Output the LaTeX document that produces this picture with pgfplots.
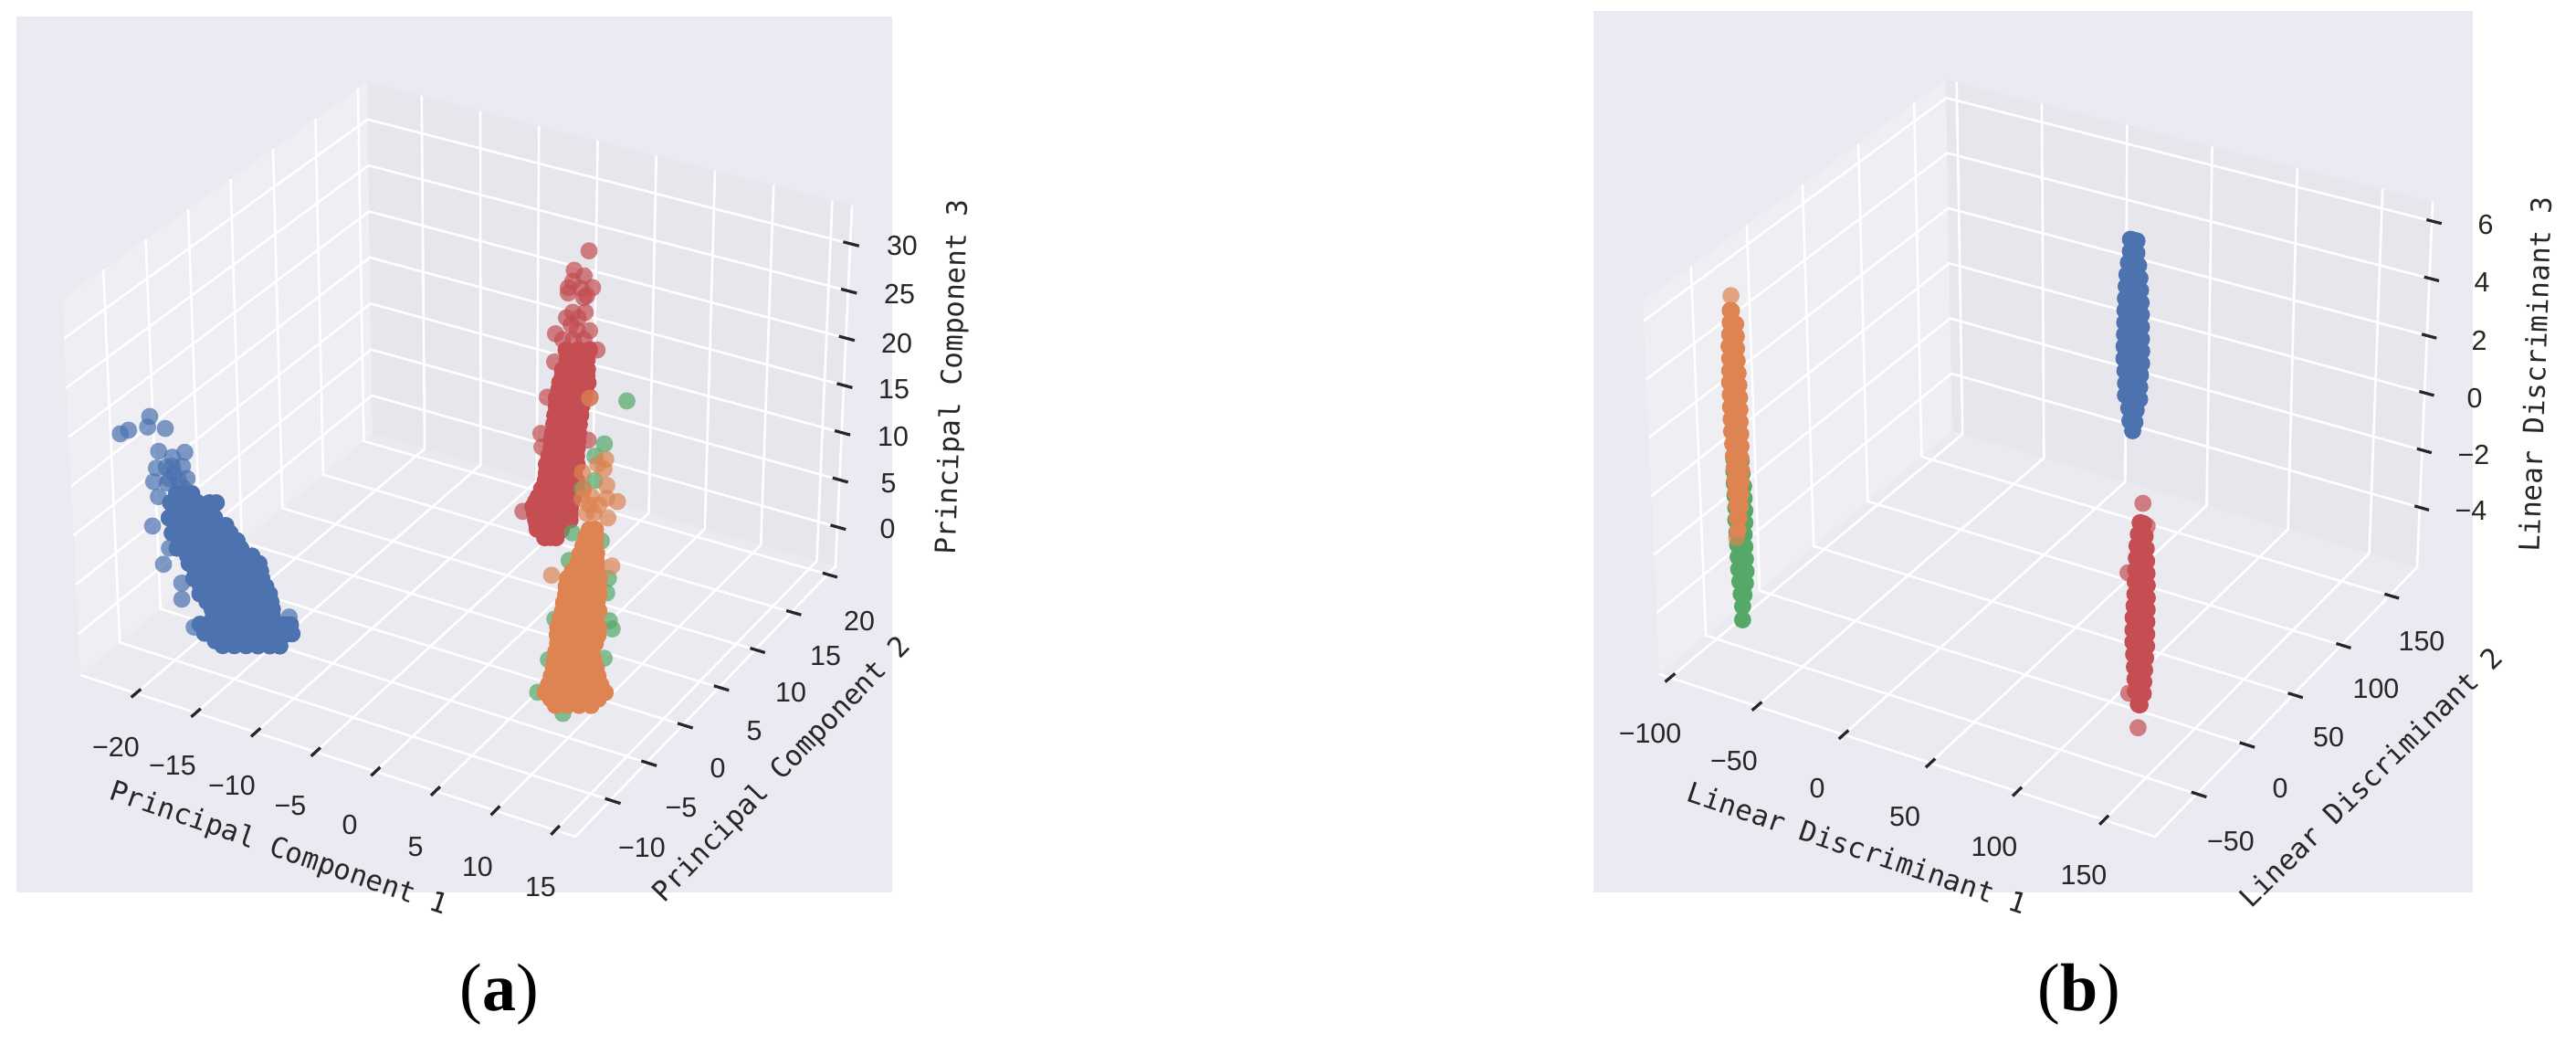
\documentclass[border=0pt]{standalone}
\usepackage{fontspec}
\usepackage{pgfplots}
\usepackage{pgfplotstable}
\pgfplotsset{compat=1.18}
\setmainfont{Liberation Sans}
\newfontfamily\labfont{DejaVu Sans Mono}
\newfontfamily\capfont{Liberation Serif}

\definecolor{bg}{HTML}{EAEAF2}
\definecolor{wallL}{HTML}{EEEEF3}
\definecolor{wallB}{HTML}{E6E6EC}
\definecolor{wallF}{HTML}{EAEAF0}
\definecolor{cblue}{HTML}{4C72B0}
\definecolor{cred}{HTML}{C44E52}
\definecolor{cgreen}{HTML}{55A868}
\definecolor{corange}{HTML}{DD8452}

% the picture is laid out in the pixels of the reference, the 3D data goes
% through a small perspective map (corners of each box)
\pgfplotsset{
  /pgf/declare function={
    bl(\p,\q,\ca,\cb,\cc,\cd)=(1-\q)*((1-\p)*\ca+\p*\cb)+\q*((1-\p)*\cd+\p*\cc);
    ua(\x)=(\x+24.65)/41.32; va(\y)=(\y+14.85)/35.93; wa(\z)=(\z+4.16)/38.2;
    pxa(\x,\y,\z)=(1-wa(\z))*bl(ua(\x),va(\y),88,630,915,408)+wa(\z)*bl(ua(\x),va(\y),68,635,933,402);
    pya(\x,\y,\z)=(1-wa(\z))*bl(ua(\x),va(\y),739,916,620,475)+wa(\z)*bl(ua(\x),va(\y),327,491,225,90);
    ub(\x)=(\x+106.3)/285.7; vb(\y)=(\y+93.2)/271.7; wb(\z)=(\z+6.09)/12.76;
    pxb(\x,\y,\z)=(1-wb(\z))*bl(ub(\x),vb(\y),1817,2360,2647,2138)+wb(\z)*bl(ub(\x),vb(\y),1799,2365,2664,2131);
    pyb(\x,\y,\z)=(1-wb(\z))*bl(ub(\x),vb(\y),738,916,621,472)+wb(\z)*bl(ub(\x),vb(\y),330,493,221,87);
  },
  table/pa/.style={x expr={pxa(\thisrow{x},\thisrow{y},\thisrow{z})},y expr={pya(\thisrow{x},\thisrow{y},\thisrow{z})}},
  table/pb/.style={x expr={pxb(\thisrow{x},\thisrow{y},\thisrow{z})},y expr={pyb(\thisrow{x},\thisrow{y},\thisrow{z})}},
  gl/.style={white,line width=.65pt,no marks},
  tk/.style={black!85,line width=.8pt,no marks},
  pts/.style={only marks,mark=*,mark size=2.35pt,mark options={draw opacity=0,fill=#1,fill opacity=.7}},
  core/.style={only marks,mark=*,mark size=2.35pt,mark options={draw opacity=0,fill=#1}},
}

% ---- panel a, PCA
\pgfplotstableread[row sep=\\]{x y z\\
-24.23 -9.46 17.02\\ -23.53 -9.46 17.65\\ -21.72 -9.46 19.73\\ -21.93 -9.46 18.57\\ -20.47 -9.46 18.96\\
-21.09 -9.46 16.4\\ -18.92 -9.46 17.11\\ -19.96 -9.46 16.22\\ -21.33 -9.46 14.6\\ -19.16 -9.46 15.58\\
-21.61 -9.46 13.1\\ -18.81 -9.46 14.48\\ -20.47 -9.46 13.39\\ -21.26 -9.46 11.7\\ -21.85 -9.46 8.47\\
-21.05 -9.46 4.87\\ -19.61 -9.46 1.85\\ -19.57 -9.46 3.51\\ -20.5 -9.46 6.72\\ -10.6 -9.46 3.48\\ -18.65 -9.46 -.63\\
-20.5 -9.46 15\\ -19.9 -9.46 14.6\\ -20 -9.46 15.3\\ -19.5 -9.46 14\\ -20.3 -9.46 13.9\\ -19.2 -9.46 13.4\\
}\bluePtsA
\pgfplotstableread[row sep=\\]{x y z\\
-19.73 -9.46 12.59\\ -19.1 -9.46 12.82\\ -18.46 -9.46 13.06\\
-20.26 -9.46 11.46\\ -19 -9.46 11.93\\ -18 -9.46 12.31\\ -17 -9.46 12.68\\ -16.44 -9.46 12.89\\
-20 -9.46 10.77\\ -19 -9.46 11.15\\ -18 -9.46 11.53\\ -17 -9.46 11.9\\
-20.43 -9.46 9.84\\ -19.5 -9.46 10.19\\ -18.5 -9.46 10.57\\ -17.5 -9.46 10.94\\ -16.61 -9.46 11.28\\
-19.8 -9.46 9.31\\ -18.7 -9.46 9.72\\ -17.7 -9.46 10.1\\ -16.7 -9.46 10.47\\ -15.7 -9.46 10.85\\
-20.22 -9.46 8.37\\ -19.2 -9.46 8.76\\ -18.2 -9.46 9.13\\ -17.2 -9.46 9.51\\ -16.2 -9.46 9.88\\ -15.37 -9.46 10.2\\
-19.4 -9.46 7.91\\ -18.3 -9.46 8.32\\ -17.3 -9.46 8.7\\ -16.3 -9.46 9.08\\ -15.3 -9.46 9.45\\ -14.8 -9.46 9.64\\
-19.86 -9.46 6.96\\ -18.8 -9.46 7.36\\ -17.8 -9.46 7.73\\ -16.8 -9.46 8.11\\ -15.8 -9.46 8.48\\ -14.8 -9.46 8.86\\ -14.51 -9.46 8.97\\
-19 -9.46 6.51\\ -18.3 -9.46 6.77\\ -17.3 -9.46 7.15\\ -16.3 -9.46 7.53\\ -15.3 -9.46 7.9\\ -14.3 -9.46 8.28\\ -13.6 -9.46 8.54\\
-18.89 -9.46 5.78\\ -17.9 -9.46 6.15\\ -16.9 -9.46 6.53\\ -15.9 -9.46 6.91\\ -14.9 -9.46 7.28\\ -13.9 -9.46 7.66\\ -13.02 -9.46 7.99\\
-18.4 -9.46 5.19\\ -17.4 -9.46 5.56\\ -16.4 -9.46 5.94\\ -15.4 -9.46 6.31\\ -14.4 -9.46 6.69\\ -13.4 -9.46 7.07\\ -12.9 -9.46 7.25\\
-18.54 -9.46 4.36\\ -17.5 -9.46 4.75\\ -16.5 -9.46 5.13\\ -15.5 -9.46 5.51\\ -14.5 -9.46 5.88\\ -13.5 -9.46 6.26\\ -12.81 -9.46 6.52\\
-18 -9.46 3.79\\ -17 -9.46 4.16\\ -16 -9.46 4.54\\ -15 -9.46 4.91\\ -14 -9.46 5.29\\ -13 -9.46 5.67\\ -12.5 -9.46 5.85\\
-18.07 -9.46 2.99\\ -17 -9.46 3.39\\ -16 -9.46 3.77\\ -15 -9.46 4.14\\ -14 -9.46 4.52\\ -13 -9.46 4.9\\ -12.21 -9.46 5.19\\
-17.5 -9.46 2.43\\ -16.5 -9.46 2.81\\ -15.5 -9.46 3.19\\ -14.5 -9.46 3.56\\ -13.5 -9.46 3.94\\ -12.5 -9.46 4.31\\ -12.1 -9.46 4.46\\
-17.08 -9.46 1.81\\ -16 -9.46 2.22\\ -15 -9.46 2.59\\ -14 -9.46 2.97\\ -13 -9.46 3.35\\ -11.99 -9.46 3.73\\
-17 -9.46 1.07\\ -16 -9.46 1.45\\ -15 -9.46 1.82\\ -14 -9.46 2.2\\ -13 -9.46 2.58\\ -12 -9.46 2.95\\
-18.14 -9.46 -.14\\ -17 -9.46 .29\\ -16 -9.46 .67\\ -15 -9.46 1.04\\ -14 -9.46 1.42\\ -13 -9.46 1.8\\ -12 -9.46 2.17\\ -11 -9.46 2.55\\ -10.5 -9.46 2.74\\
-17.78 -9.46 -.92\\ -16.8 -9.46 -.55\\ -15.8 -9.46 -.18\\ -14.8 -9.46 .2\\ -13.8 -9.46 .58\\ -12.8 -9.46 .95\\ -11.8 -9.46 1.33\\ -10.8 -9.46 1.7\\ -10.39 -9.46 1.86\\
-16.9 -9.46 -1.35\\ -16.28 -9.46 -1.6\\ -15.3 -9.46 -1.23\\ -14.3 -9.46 -.85\\ -13.3 -9.46 -.48\\ -12.3 -9.46 -.1\\ -11.44 -9.46 .22\\
}\blueCoreA
\pgfplotstableread[row sep=\\]{x y z\\
.14 12.46 29.95\\ -1.09 12.46 27.5\\ -.25 12.46 27.2\\ -1.57 12.46 25.5\\ .48 12.46 26.2\\ -1.57 12.46 24.95\\ -.25 12.46 24.9\\
-1.17 12.46 23.05\\ -.12 12.46 23.4\\ -1.7 12.46 22.3\\ .27 12.46 21.6\\ -.78 12.46 21.3\\ -2.62 12.46 20.3\\ .93 12.46 19.8\\
-2.67 12.46 17.33\\ -3.27 12.46 13.4\\ .4 12.46 14.65\\ -3.8 12.46 9.4\\ .27 12.46 10.1\\ -3.7 12.46 8\\ -5.32 12.46 .65\\
-.5 12.46 25.8\\ -1.2 12.46 26.3\\ 0 12.46 25.2\\ -.7 12.46 22.6\\ -1.3 12.46 21.7\\ -.2 12.46 20.5\\ -2 12.46 19.9\\ -1.1 12.46 20.2\\
}\redPtsA
\pgfplotstableread[row sep=\\]{x y z\\
-1.7 12.46 18.9\\ -.65 12.46 19.3\\ .3 12.46 19.6\\
-1.6 12.46 18\\ -.7 12.46 18.3\\ .1 12.46 18.5\\
-2 12.46 16.7\\ -1.2 12.46 17\\ -.4 12.46 17.3\\ .14 12.46 17.5\\
-2 12.46 16\\ -1.2 12.46 16.3\\ -.4 12.46 16.6\\ .1 12.46 16.8\\
-2.22 12.46 15.3\\ -1.4 12.46 15.6\\ -.6 12.46 15.85\\ .2 12.46 16.1\\
-2.3 12.46 14.5\\ -1.5 12.46 14.8\\ -.7 12.46 15\\ 0 12.46 15.3\\
-2.5 12.46 13.6\\ -1.7 12.46 13.9\\ -.9 12.46 14.2\\ -.1 12.46 14.5\\
-2.5 12.46 12.7\\ -1.7 12.46 13\\ -.9 12.46 13.2\\ -.3 12.46 13.5\\
-2.62 12.46 11.7\\ -1.8 12.46 12\\ -1 12.46 12.25\\ -.39 12.46 12.5\\
-2.7 12.46 10.75\\ -1.9 12.46 11\\ -1.1 12.46 11.3\\ -.5 12.46 11.5\\
-2.8 12.46 9.75\\ -2 12.46 10\\ -1.2 12.46 10.3\\ -.55 12.46 10.55\\
-2.9 12.46 9\\ -2.1 12.46 9.25\\ -1.3 12.46 9.5\\ -.6 12.46 9.75\\
-2.9 12.46 8.2\\ -2.1 12.46 8.45\\ -1.3 12.46 8.7\\ -.65 12.46 8.95\\
-3.1 12.46 7.3\\ -2.3 12.46 7.55\\ -1.5 12.46 7.8\\ -.7 12.46 8.1\\
-3.3 12.46 6.3\\ -2.5 12.46 6.6\\ -1.7 12.46 6.85\\ -.9 12.46 7.1\\ -.65 12.46 7.2\\
-3.3 12.46 5.4\\ -2.5 12.46 5.7\\ -1.7 12.46 6\\ -.9 12.46 6.25\\
-3.4 12.46 4.55\\ -2.6 12.46 4.85\\ -1.8 12.46 5.1\\ -1 12.46 5.4\\ -.65 12.46 5.5\\
-3.7 12.46 3.6\\ -2.9 12.46 3.85\\ -2.1 12.46 4.15\\ -1.3 12.46 4.4\\ -.7 12.46 4.6\\
-4 12.46 2.65\\ -3.2 12.46 2.85\\ -2.4 12.46 3.2\\ -1.6 12.46 3.45\\ -.9 12.46 3.7\\
-4.2 12.46 2.1\\ -3.4 12.46 2.3\\ -2.6 12.46 2.6\\ -1.8 12.46 2.85\\ -1.1 12.46 3.1\\
-4.45 12.46 1.45\\ -3.6 12.46 1.75\\ -2.8 12.46 2\\ -2 12.46 2.3\\ -1.17 12.46 2.6\\
-4.3 12.46 .8\\ -3.5 12.46 1.1\\ -2.7 12.46 1.35\\ -1.9 12.46 1.65\\ -1.2 12.46 1.9\\
-4.2 12.46 .15\\ -3.4 12.46 .45\\ -2.6 12.46 .7\\ -1.8 12.46 1\\ -1.2 12.46 1.2\\
-4.1 12.46 -.3\\ -3.3 12.46 -.05\\ -2.5 12.46 .2\\ -1.9 12.46 .4\\
-4.06 12.46 -.8\\ -3.3 12.46 -.55\\ -2.5 12.46 -.27\\ -1.96 12.46 -.1\\
-3.4 12.46 -1.45\\ -2.9 12.46 -1.25\\ -2.4 12.46 -1.1\\
}\redCoreA
\pgfplotstableread[row sep=\\]{x y z\\
14.77 -5.5 31.81\\ 13 -5.5 26.87\\ 12.24 -5.5 25.38\\ 12.24 -5.5 22.92\\ 11.23 -5.5 21.73\\ 10.47 -5.5 17.02\\ 10.22 -5.5 14.15\\
13.5 -5.5 13.54\\ 13.38 -5.5 12.03\\ 13.63 -5.5 9.33\\ 13.88 -5.5 8.6\\ 9.09 -5.5 7.83\\ 13.25 -5.5 5.42\\ 7.7 -5.5 -.06\\
9.84 -5.5 -1.4\\ 12.87 -5.5 17.08\\ 8.58 -5.5 3.55\\
}\greenPtsA
\pgfplotstableread[row sep=\\]{x y z\\
13.13 -5.5 25.37\\ 12.49 -5.5 24.64\\ 13 -5.5 24.35\\ 11.23 -5.5 23.37\\ 13.25 -5.5 22.8\\ 11.36 -5.5 21.78\\ 11.99 -5.5 21.19\\
11.23 -5.5 20.75\\ 14.14 -5.5 21.48\\ 12.62 -5.5 20.6\\ 13.25 -5.5 21.49\\ 11.61 -5.5 19.42\\ 12.24 -5.5 19.65\\ 13.38 -5.5 19.57\\
11.74 -5.5 31.03\\ 8.78 -5.5 12.14\\ 13.76 -5.5 14.88\\ 11.86 -5.5 20.32\\
}\orangePtsA
\pgfplotstableread[row sep=\\]{x y z\\
9.2 -5.5 -.82\\ 10.2 -5.5 -.45\\ 11.2 -5.5 -.08\\ 12.2 -5.5 .28\\
8.8 -5.5 -.3\\ 9.8 -5.5 .05\\ 10.8 -5.5 .4\\ 11.8 -5.5 .8\\ 12.8 -5.5 1.15\\
8.33 -5.5 .17\\ 9.3 -5.5 .53\\ 10.3 -5.5 .9\\ 11.3 -5.5 1.26\\ 12.3 -5.5 1.63\\ 13.38 -5.5 2.03\\
8.6 -5.5 1.05\\ 9.6 -5.5 1.4\\ 10.6 -5.5 1.8\\ 11.6 -5.5 2.15\\ 12.6 -5.5 2.5\\ 13 -5.5 2.65\\
8.83 -5.5 2\\ 9.8 -5.5 2.35\\ 10.8 -5.5 2.72\\ 11.8 -5.5 3.09\\ 12.75 -5.5 3.44\\
9 -5.5 2.9\\ 10 -5.5 3.25\\ 11 -5.5 3.6\\ 12 -5.5 4\\ 12.6 -5.5 4.2\\
9.09 -5.5 3.73\\ 10 -5.5 4.07\\ 11 -5.5 4.43\\ 12 -5.5 4.8\\ 12.37 -5.5 4.94\\
9.2 -5.5 4.6\\ 10.2 -5.5 4.95\\ 11.2 -5.5 5.3\\ 12.2 -5.5 5.7\\
9.34 -5.5 5.47\\ 10.3 -5.5 5.82\\ 11.3 -5.5 6.18\\ 12.49 -5.5 6.62\\
9.3 -5.5 6.3\\ 10.3 -5.5 6.65\\ 11.3 -5.5 7\\ 12.3 -5.5 7.4\\ 12.7 -5.5 7.5\\
9.34 -5.5 7.11\\ 10.3 -5.5 7.46\\ 11.3 -5.5 7.82\\ 12.1 -5.5 8.12\\ 12.75 -5.5 8.36\\
9.5 -5.5 8\\ 10.5 -5.5 8.35\\ 11.5 -5.5 8.7\\ 12.5 -5.5 9.1\\
9.72 -5.5 8.88\\ 10.6 -5.5 9.21\\ 11.6 -5.5 9.57\\ 12.2 -5.5 9.8\\ 12.75 -5.5 10\\
9.8 -5.5 9.75\\ 10.7 -5.5 10.1\\ 11.7 -5.5 10.45\\ 12.6 -5.5 10.8\\
9.97 -5.5 10.62\\ 10.9 -5.5 10.96\\ 11.9 -5.5 11.32\\ 12.75 -5.5 11.64\\
10 -5.5 11.45\\ 11 -5.5 11.8\\ 12 -5.5 12.15\\ 12.7 -5.5 12.45\\
10.1 -5.5 12.29\\ 11 -5.5 12.62\\ 12 -5.5 12.99\\ 12.75 -5.5 13.27\\
10.5 -5.5 13.2\\ 11.5 -5.5 13.6\\ 12.5 -5.5 13.95\\
10.98 -5.5 14.26\\ 11.9 -5.5 14.59\\ 12.49 -5.5 14.81\\
11.1 -5.5 15.1\\ 12 -5.5 15.45\\ 12.5 -5.5 15.65\\
11.36 -5.5 16.04\\ 12.37 -5.5 16.41\\
11.6 -5.5 17\\ 12.4 -5.5 17.25\\
11.86 -5.5 17.86\\ 12.37 -5.5 18.05\\
}\orangeCoreA

% ---- panel b, LDA
\pgfplotstableread[row sep=\\]{x y z\\
43.7 114.7 5.23\\ 41.8 114.7 5.23\\ 45.6 114.7 5.23\\ 43.7 114.7 4.81\\ 41.8 114.7 4.81\\ 45.6 114.7 4.81\\
43.7 114.7 4.39\\ 40.7 114.7 4.39\\ 46.7 114.7 4.39\\ 43.7 114.7 3.96\\ 39.9 114.7 3.96\\ 47.5 114.7 3.96\\
43.7 114.7 3.54\\ 39.5 114.7 3.54\\ 47.9 114.7 3.54\\ 43.7 114.7 3.11\\ 39.1 114.7 3.11\\ 48.3 114.7 3.11\\
43.7 114.7 2.69\\ 38.9 114.7 2.69\\ 48.5 114.7 2.69\\ 43.7 114.7 2.26\\ 38.8 114.7 2.26\\ 48.6 114.7 2.26\\
43.7 114.7 1.84\\ 38.7 114.7 1.84\\ 48.7 114.7 1.84\\ 43.7 114.7 1.42\\ 38.5 114.7 1.42\\ 48.9 114.7 1.42\\
43.7 114.7 .99\\ 38.5 114.7 .99\\ 48.9 114.7 .99\\ 43.7 114.7 .57\\ 39.1 114.7 .57\\ 48.3 114.7 .57\\
43.7 114.7 .14\\ 39.5 114.7 .14\\ 47.9 114.7 .14\\ 43.7 114.7 -.28\\ 39.5 114.7 -.28\\ 47.9 114.7 -.28\\
43.7 114.7 -.7\\ 41.5 114.7 -.7\\ 45.9 114.7 -.7\\ 43.7 114.7 -1.13\\ 42.2 114.7 -1.13\\ 45.2 114.7 -1.13\\ 43.9 114.7 -1.45\\
}\blueCoreB
\pgfplotstableread[row sep=\\]{x y z\\
158 -71.5 3.22\\ 157 -71.5 3.22\\ 159 -71.5 3.22\\ 158 -71.5 2.82\\ 156.1 -71.5 2.82\\ 159.9 -71.5 2.82\\
158 -71.5 2.42\\ 155.4 -71.5 2.42\\ 160.6 -71.5 2.42\\ 158 -71.5 2.01\\ 155.1 -71.5 2.01\\ 160.9 -71.5 2.01\\
158 -71.5 1.61\\ 154.8 -71.5 1.61\\ 161.2 -71.5 1.61\\ 158 -71.5 1.21\\ 154.6 -71.5 1.21\\ 161.4 -71.5 1.21\\
158 -71.5 .8\\ 154.5 -71.5 .8\\ 161.5 -71.5 .8\\ 157.8 -71.5 .4\\ 154.1 -71.5 .4\\ 161.5 -71.5 .4\\
157.5 -71.5 0\\ 153.6 -71.5 0\\ 161.4 -71.5 0\\ 157.5 -71.5 -.41\\ 153.6 -71.5 -.41\\ 161.4 -71.5 -.41\\
157.5 -71.5 -.81\\ 153.6 -71.5 -.81\\ 161.4 -71.5 -.81\\ 157.5 -71.5 -1.21\\ 154.1 -71.5 -1.21\\ 160.9 -71.5 -1.21\\
157.5 -71.5 -1.62\\ 154.6 -71.5 -1.62\\ 160.4 -71.5 -1.62\\ 157.5 -71.5 -2.02\\ 155 -71.5 -2.02\\ 160 -71.5 -2.02\\
157.5 -71.5 -2.42\\ 155.2 -71.5 -2.42\\ 159.8 -71.5 -2.42\\ 157.5 -71.5 -2.82\\ 157 -71.5 -2.82\\ 158 -71.5 -2.82\\
}\redCoreB
\pgfplotstableread[row sep=\\]{x y z\\
158.5 -71.5 3.89\\ 161 -71.5 3.18\\ 157 -71.5 -3.6\\ 151.5 -71.5 -2.55\\ 150.5 -71.5 1.44\\
}\redPtsB
\pgfplotstableread[row sep=\\]{x y z\\
-81 -57.9 .7\\ -76.8 -57.9 .7\\ -81.2 -57.9 .28\\ -76.5 -57.9 .28\\ -81.2 -57.9 -.14\\ -75.9 -57.9 -.14\\
-81.1 -57.9 -.55\\ -75.8 -57.9 -.55\\ -80.9 -57.9 -.97\\ -75.7 -57.9 -.97\\ -81.1 -57.9 -1.39\\ -75.9 -57.9 -1.39\\
-80.7 -57.9 -1.81\\ -76.5 -57.9 -1.81\\ -80.6 -57.9 -2.23\\ -76.4 -57.9 -2.23\\ -80.5 -57.9 -2.65\\ -76.3 -57.9 -2.65\\
-80.4 -57.9 -3.07\\ -76.2 -57.9 -3.07\\ -80 -57.9 -3.49\\ -76.8 -57.9 -3.49\\ -79.5 -57.9 -3.91\\ -77.9 -57.9 -3.91\\
-78.9 -57.9 -4.32\\ -79.2 -57.9 -4.79\\
}\greenCoreB
\pgfplotstableread[row sep=\\]{x y z\\
-80 -57.9 5.83\\ -79.3 -57.9 5.83\\ -80.3 -57.9 5.41\\ -77.2 -57.9 5.41\\ -80.8 -57.9 4.99\\ -77.1 -57.9 4.99\\
-81.4 -57.9 4.57\\ -77.2 -57.9 4.57\\ -81.3 -57.9 4.15\\ -77.1 -57.9 4.15\\ -81.5 -57.9 3.73\\ -76.8 -57.9 3.73\\
-81.8 -57.9 3.32\\ -76.6 -57.9 3.32\\ -81.7 -57.9 2.9\\ -76.4 -57.9 2.9\\ -81.8 -57.9 2.48\\ -76.5 -57.9 2.48\\
-81.7 -57.9 2.06\\ -76.6 -57.9 2.06\\ -81.7 -57.9 1.64\\ -76.5 -57.9 1.64\\ -81.3 -57.9 1.22\\ -76.6 -57.9 1.22\\
-81.1 -57.9 .81\\ -76.9 -57.9 .81\\ -81 -57.9 .39\\ -76.8 -57.9 .39\\ -80.9 -57.9 -.03\\ -77.2 -57.9 -.03\\
-80.7 -57.9 -.45\\ -77.5 -57.9 -.45\\ -80.3 -57.9 -.87\\ -78.2 -57.9 -.87\\ -80.2 -57.9 -1.29\\ -79.2 -57.9 -1.29\\ -80 -57.9 -1.71\\
}\orangeCoreB
\pgfplotstableread[row sep=\\]{x y z\\
-79.3 -57.9 6.35\\ -81 -57.9 -1.99\\
}\orangePtsB

\newcommand\tl[2]{\node[text=black!85] at (axis cs:#1) {\fontsize{7.6}{9}\selectfont #2};}
\newcommand\al[3]{\node[rotate=#2,text=black!85] at (axis cs:#1) {\fontsize{7.7}{9}\labfont #3};}

\begin{document}
\begin{tikzpicture}
\begin{axis}[width=705.25pt,height=288.75pt,scale only axis,hide axis,
  xmin=0,xmax=2821,ymin=0,ymax=1155,y dir=reverse,enlargelimits=false]
\path (axis cs:0,0) rectangle (axis cs:2821,1155);

% panel a: background, panes
\addplot[fill=bg,draw=none] coordinates {(18,18) (977,18) (977,977) (18,977)};
\addplot[fill=wallL,draw=none] table[pa,row sep=\\] {x y z\\ -24.65 -14.85 -4.16\\ -24.65 21.08 -4.16\\ -24.65 21.08 34.04\\ -24.65 -14.85 34.04\\};
\addplot[fill=wallB,draw=none] table[pa,row sep=\\] {x y z\\ -24.65 21.08 -4.16\\ 16.67 21.08 -4.16\\ 16.67 21.08 34.04\\ -24.65 21.08 34.04\\};
\addplot[fill=wallF,draw=none] table[pa,row sep=\\] {x y z\\ -24.65 -14.85 -4.16\\ 16.67 -14.85 -4.16\\ 16.67 21.08 -4.16\\ -24.65 21.08 -4.16\\};
\pgfplotsinvokeforeach{-20,-15,-10,-5,0,5,10,15}{
  \addplot[gl] table[pa,row sep=\\] {x y z\\ #1 -14.85 -4.16\\ #1 21.08 -4.16\\ #1 21.08 34.04\\};
}
\pgfplotsinvokeforeach{-10,-5,0,5,10,15,20}{
  \addplot[gl] table[pa,row sep=\\] {x y z\\ 16.67 #1 -4.16\\ -24.65 #1 -4.16\\ -24.65 #1 34.04\\};
}
\pgfplotsinvokeforeach{0,5,10,15,20,25,30}{
  \addplot[gl] table[pa,row sep=\\] {x y z\\ -24.65 -14.85 #1\\ -24.65 21.08 #1\\ 16.67 21.08 #1\\};
}
\addplot[gl] table[pa,row sep=\\] {x y z\\ -24.65 -14.85 -4.16\\ 16.67 -14.85 -4.16\\ 16.67 21.08 -4.16\\ 16.67 21.08 34.04\\};
\pgfplotsinvokeforeach{-20,-15,-10,-5,0,5,10,15}{
  \addplot[tk] table[pa,row sep=\\] {x y z\\ #1 -15.45 -4.16\\ #1 -14.25 -4.16\\};
}
\pgfplotsinvokeforeach{-10,-5,0,5,10,15,20}{
  \addplot[tk] table[pa,row sep=\\] {x y z\\ 16.22 #1 -4.16\\ 17.52 #1 -4.16\\};
}
\pgfplotsinvokeforeach{0,5,10,15,20,25,30}{
  \addplot[tk] table[pa,row sep=\\] {x y z\\ 16.07 21.08 #1\\ 17.42 21.08 #1\\};
}
\addplot[core=cblue] table[pa] {\blueCoreA};
\addplot[pts=cblue] table[pa] {\bluePtsA};
\addplot[core=cred] table[pa] {\redCoreA};
\addplot[pts=cred] table[pa] {\redPtsA};
\addplot[pts=cgreen] table[pa] {\greenPtsA};
\addplot[core=corange] table[pa] {\orangeCoreA};
\addplot[pts=corange] table[pa] {\orangePtsA};

\tl{127,818}{−20} \tl{189,838}{−15} \tl{254,860}{−10} \tl{318,882}{−5}
\tl{383,903}{0} \tl{455,927}{5} \tl{523,949}{10} \tl{592,971}{15}
\tl{703,928}{−10} \tl{746,884}{−5} \tl{786,841}{0} \tl{826,800}{5}
\tl{866,758}{10} \tl{904,718}{15} \tl{941,680}{20}
\tl{988,269}{30} \tl{985,322}{25} \tl{982,376}{20} \tl{979,426}{15}
\tl{978,478}{10} \tl{973,529}{5} \tl{972,579}{0}
\al{305,930}{-19}{Principal Component 1}
\al{857,843}{46}{Principal Component 2}
\al{1044,413}{88}{Principal Component 3}
\node at (axis cs:547,1089) {\fontsize{18.5}{22}\capfont (\textbf{a})};

% panel b: background, panes
\addplot[fill=bg,draw=none] coordinates {(1745,12) (2708,12) (2708,977) (1745,977)};
\addplot[fill=wallL,draw=none] table[pb,row sep=\\] {x y z\\ -106.3 -93.2 -6.09\\ -106.3 178.5 -6.09\\ -106.3 178.5 6.67\\ -106.3 -93.2 6.67\\};
\addplot[fill=wallB,draw=none] table[pb,row sep=\\] {x y z\\ -106.3 178.5 -6.09\\ 179.4 178.5 -6.09\\ 179.4 178.5 6.67\\ -106.3 178.5 6.67\\};
\addplot[fill=wallF,draw=none] table[pb,row sep=\\] {x y z\\ -106.3 -93.2 -6.09\\ 179.4 -93.2 -6.09\\ 179.4 178.5 -6.09\\ -106.3 178.5 -6.09\\};
\pgfplotsinvokeforeach{-100,-50,0,50,100,150}{
  \addplot[gl] table[pb,row sep=\\] {x y z\\ #1 -93.2 -6.09\\ #1 178.5 -6.09\\ #1 178.5 6.67\\};
}
\pgfplotsinvokeforeach{-50,0,50,100,150}{
  \addplot[gl] table[pb,row sep=\\] {x y z\\ 179.4 #1 -6.09\\ -106.3 #1 -6.09\\ -106.3 #1 6.67\\};
}
\pgfplotsinvokeforeach{-4,-2,0,2,4,6}{
  \addplot[gl] table[pb,row sep=\\] {x y z\\ -106.3 -93.2 #1\\ -106.3 178.5 #1\\ 179.4 178.5 #1\\};
}
\addplot[gl] table[pb,row sep=\\] {x y z\\ -106.3 -93.2 -6.09\\ 179.4 -93.2 -6.09\\ 179.4 178.5 -6.09\\ 179.4 178.5 6.67\\};
\pgfplotsinvokeforeach{-100,-50,0,50,100,150}{
  \addplot[tk] table[pb,row sep=\\] {x y z\\ #1 -97.8 -6.09\\ #1 -88.6 -6.09\\};
}
\pgfplotsinvokeforeach{-50,0,50,100,150}{
  \addplot[tk] table[pb,row sep=\\] {x y z\\ 176.3 #1 -6.09\\ 185.1 #1 -6.09\\};
}
\pgfplotsinvokeforeach{-4,-2,0,2,4,6}{
  \addplot[tk] table[pb,row sep=\\] {x y z\\ 176.3 178.5 #1\\ 185.1 178.5 #1\\};
}
\addplot[core=cblue] table[pb] {\blueCoreB};
\addplot[core=cred] table[pb] {\redCoreB};
\addplot[pts=cred] table[pb] {\redPtsB};
\addplot[core=cgreen] table[pb] {\greenCoreB};
\addplot[core=corange] table[pb] {\orangeCoreB};
\addplot[pts=corange] table[pb] {\orangePtsB};

\tl{1807,803}{−100} \tl{1899,833}{−50} \tl{1990,863}{0} \tl{2086,894}{50} \tl{2184,927}{100} \tl{2282,958}{150}
\tl{2443,921}{−50} \tl{2497,863}{0} \tl{2550,807}{50} \tl{2602,754}{100} \tl{2652,702}{150}
\tl{2722,246}{6} \tl{2718,309}{4} \tl{2715,373}{2} \tl{2710,436}{0} \tl{2709,498}{−2} \tl{2706,559}{−4}
\al{2034,928}{-18.6}{Linear Discriminant 1}
\al{2596,851}{44.6}{Linear Discriminant 2}
\al{2776,410}{88}{Linear Discriminant 3}
\node at (axis cs:2277,1089) {\fontsize{18.5}{22}\capfont (\textbf{b})};
\end{axis}
\end{tikzpicture}
\end{document}
